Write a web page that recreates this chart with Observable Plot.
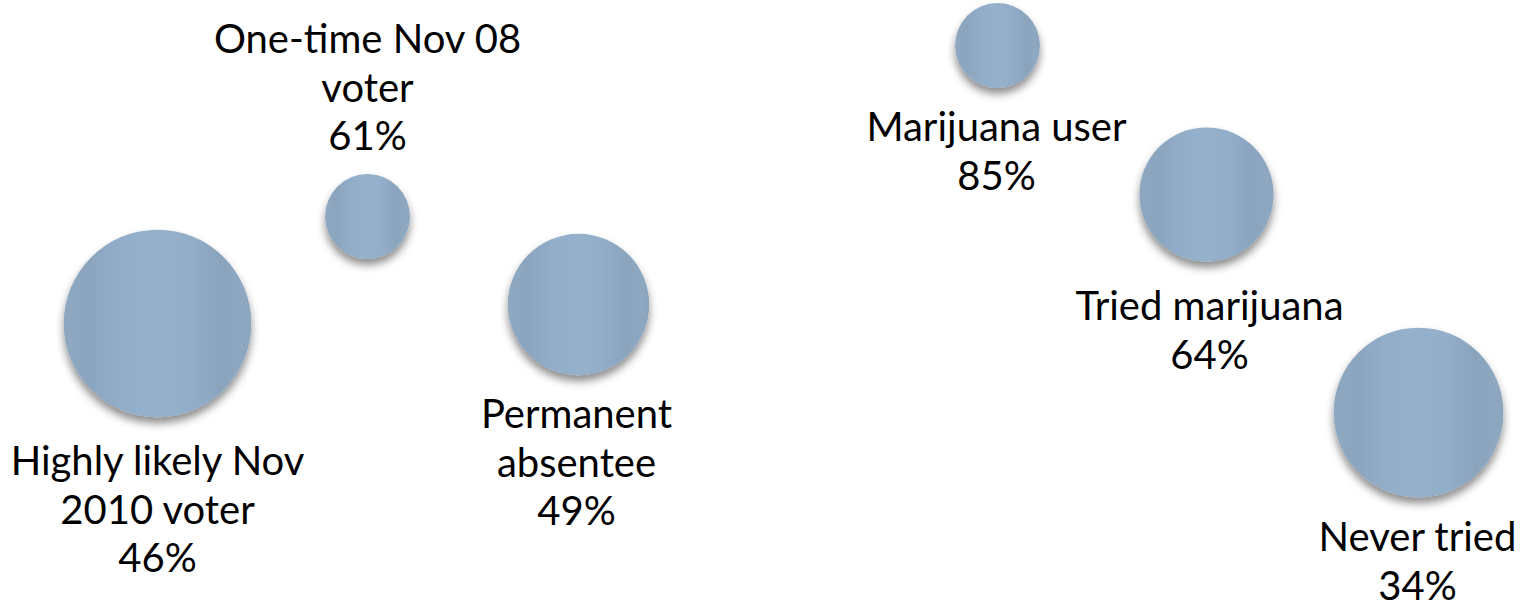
<!DOCTYPE html>
<html>
<head>
<meta charset="utf-8">
<script src="https://cdn.jsdelivr.net/npm/d3@7"></script>
<script src="https://cdn.jsdelivr.net/npm/@observablehq/plot@0.6"></script>
<style>
  html, body { margin: 0; padding: 0; background: #fff; }
  #chart { width: 1528px; height: 607px; }
</style>
</head>
<body>
<div id="chart"></div>
<script>
// Groups and their share supporting (label percentages)
const groups = [
  "Highly likely Nov\n2010 voter",
  "One-time Nov 08\nvoter",
  "Permanent\nabsentee",
  "Marijuana user",
  "Tried marijuana",
  "Never tried"
];
const pct = [46, 61, 49, 85, 64, 34];
// relative group size (bubble area)
const groupSize = [88, 18, 50, 18, 45, 72];
// bubble centres on the slide canvas
const bubbleX = [157, 367, 578, 997, 1206, 1418];
const bubbleY = [323, 216, 304, 45, 194, 412];
// label anchor (first-line baseline) on the slide canvas
const labelX = [157, 367, 576, 996, 1209, 1417];
const labelY = [477, 55, 430, 143, 322, 553];

const data = groups.map((g, i) => ({
  group: g, pct: pct[i], size: groupSize[i],
  x: bubbleX[i], y: bubbleY[i], lx: labelX[i], ly: labelY[i],
  label: g + "\n" + pct[i] + "%"
}));

const FS = 40;
const chart = Plot.plot({
  width: 1528,
  height: 607,
  margin: 0,
  x: {domain: [0, 1528], range: [0, 1528], axis: null},
  y: {domain: [0, 607], range: [0, 607], axis: null},
  r: {type: "sqrt", domain: [0, 100], range: [0, 100]},
  style: {fontFamily: "Lato, 'Open Sans', sans-serif", background: "#fff"},
  marks: [
    Plot.dot(data, {x: "x", y: "y", r: "size", fill: "url(#bubbleGrad)", stroke: "none"}),
    Plot.text(data, {
      x: "lx", y: (d) => d.ly - 0.71 * FS - 9, text: "label",
      fontSize: FS, lineHeight: 1.22, lineAnchor: "top",
      textAnchor: "middle", fill: "#000"
    })
  ]
});

const svg = d3.select(chart);
const defs = svg.insert("defs", ":first-child");
const grad = defs.append("linearGradient").attr("id", "bubbleGrad")
  .attr("x1", "0").attr("x2", "1").attr("y1", "0").attr("y2", "0");
[
  [0, "#8fa8c2"], [0.14, "#8ca5bf"], [0.3, "#92adc8"], [0.48, "#96b1cc"],
  [0.66, "#93aec9"], [0.84, "#8aa4be"], [0.95, "#8ea8c2"], [1, "#8ca5be"]
].forEach(([o, c]) => grad.append("stop").attr("offset", o).attr("stop-color", c));
const f = defs.append("filter").attr("id", "bubbleShadow")
  .attr("x", "-20%").attr("y", "-20%").attr("width", "140%").attr("height", "150%");
f.append("feDropShadow").attr("dx", 0).attr("dy", 6).attr("stdDeviation", 4)
  .attr("flood-color", "#000").attr("flood-opacity", 0.45);
svg.selectAll("circle").attr("fill", "url(#bubbleGrad)").attr("filter", "url(#bubbleShadow)");

document.getElementById("chart").appendChild(chart);
</script>
</body>
</html>
